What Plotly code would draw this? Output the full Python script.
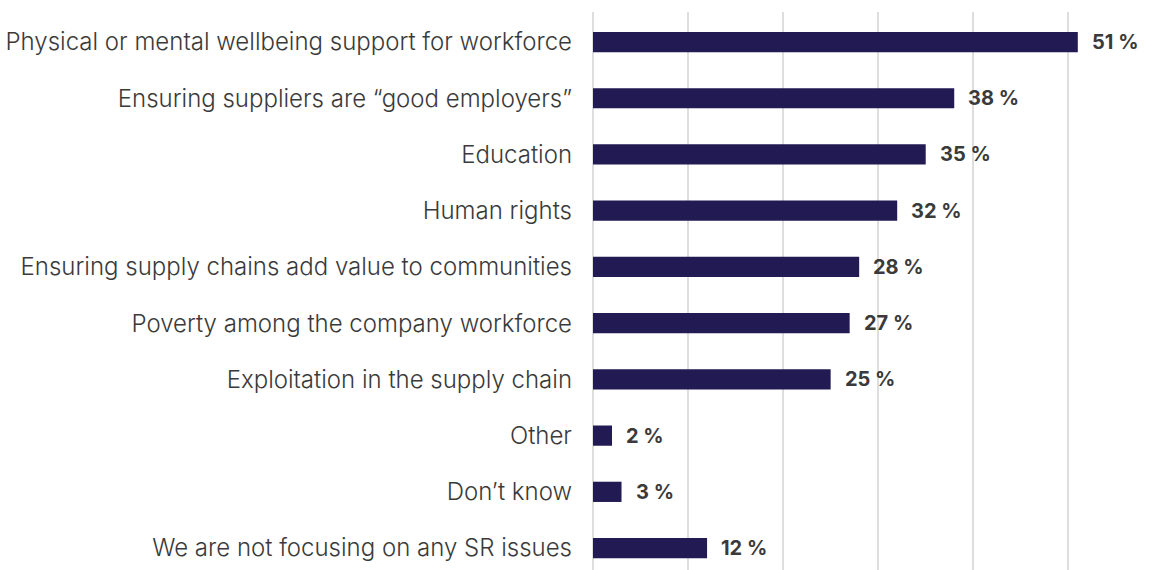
import plotly.graph_objects as go

categories = [
    "Physical or mental wellbeing support for workforce",
    "Ensuring suppliers are \u201cgood employers\u201d",
    "Education",
    "Human rights",
    "Ensuring supply chains add value to communities",
    "Poverty among the company workforce",
    "Exploitation in the supply chain",
    "Other",
    "Don\u2019t know",
    "We are not focusing on any SR issues",
]
values = [51, 38, 35, 32, 28, 27, 25, 2, 3, 12]
value_labels = [f"{v} %" for v in values]

BAR_COLOR = "#221a52"
TEXT_COLOR = "#3a3a3a"
FONT = "Inter"

fig = go.Figure(
    go.Bar(
        x=values,
        y=categories,
        orientation="h",
        marker=dict(color=BAR_COLOR, line=dict(width=0)),
        width=0.36,
        hoverinfo="skip",
    )
)

for cat, v, lab in zip(categories, values, value_labels):
    fig.add_annotation(
        x=v, y=cat, text=f"<b>{lab}</b>",
        xanchor="left", yanchor="middle", xshift=12, showarrow=False,
        font=dict(family=FONT, size=20, color=TEXT_COLOR),
    )

fig.update_layout(
    width=1151, height=570,
    margin=dict(l=593, r=0, t=12, b=0),
    paper_bgcolor="white", plot_bgcolor="white",
    showlegend=False,
    font=dict(family=FONT, color=TEXT_COLOR),
)
fig.update_xaxes(
    range=[0, 58.7], dtick=10, showticklabels=False,
    showgrid=True, gridcolor="#dedede", gridwidth=1.5,
    zeroline=True, zerolinecolor="#dedede", zerolinewidth=1.5,
    showline=False,
)
fig.update_yaxes(
    type="category", range=[9.39, -0.534],
    showgrid=False, showline=False, ticks="",
    ticklabelstandoff=20,
    tickfont=dict(family=FONT, size=24, color=TEXT_COLOR, weight=300),
)

fig.write_html("out.html")
